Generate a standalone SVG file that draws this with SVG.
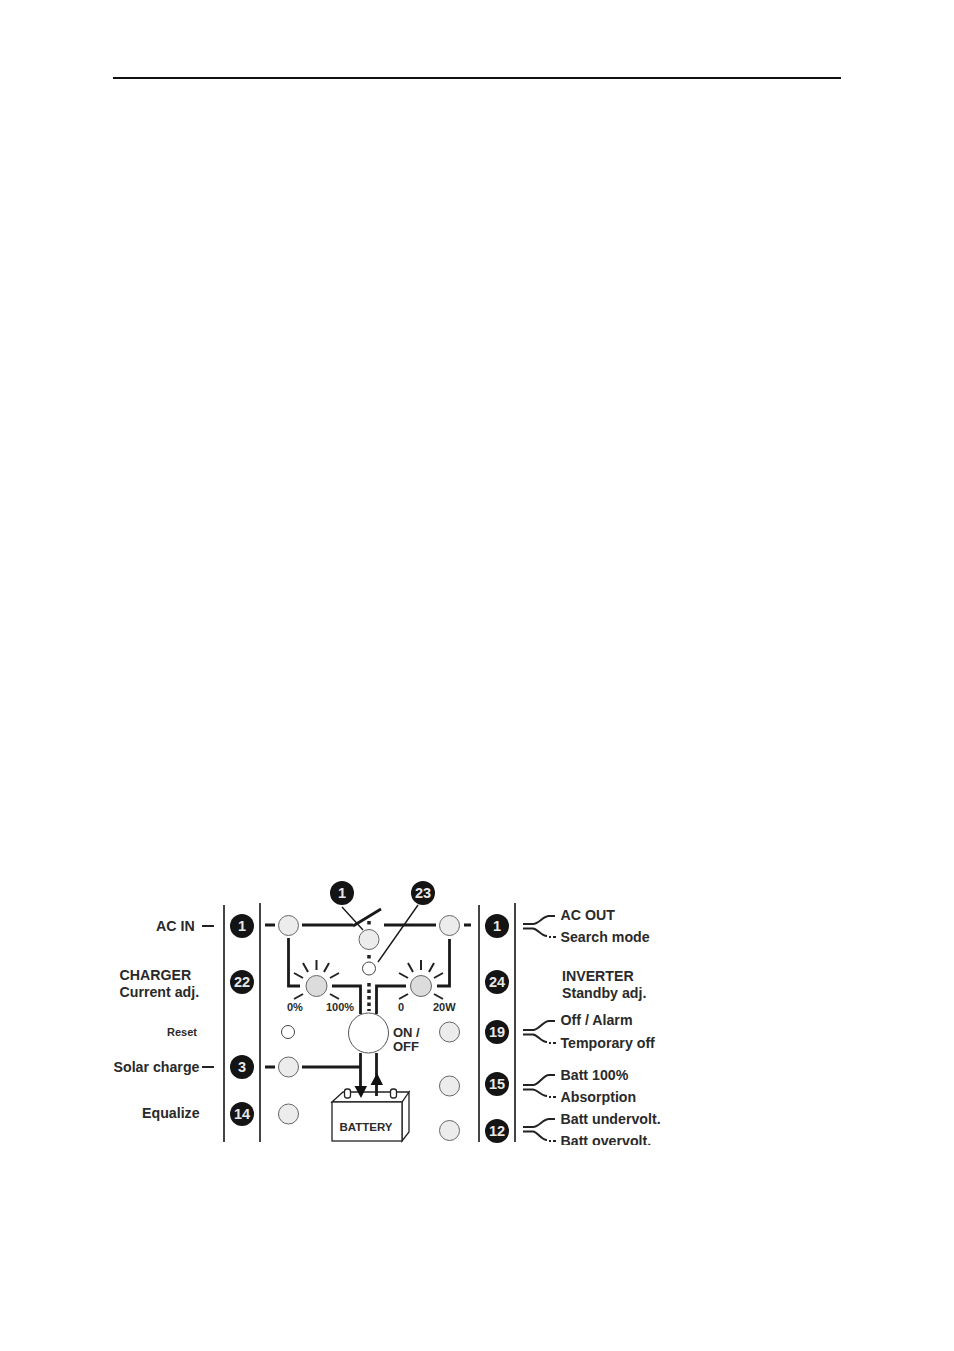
<svg xmlns="http://www.w3.org/2000/svg" width="954" height="1351" viewBox="0 0 954 1351">
<style>
text{font-family:"Liberation Sans",Arial,sans-serif;font-weight:700;fill:#2a2a2a}
.l{font-size:14.200px}.s{font-size:11px}
.o{font-size:13px}
.n{font-size:14.500px;fill:#e8e8e8;text-anchor:middle}
.b{fill:#141414}
.g{fill:#ececec;stroke:#666;stroke-width:1}
.d{fill:#dcdcdc;stroke:#666;stroke-width:1}
.w{fill:#fff;stroke:#444;stroke-width:1}
.c{fill:none;stroke:#1a1a1a;stroke-width:2.800}
.t{fill:none;stroke:#222;stroke-width:2}
.v{fill:none;stroke:#444;stroke-width:2}
.h{fill:none;stroke:#1a1a1a;stroke-width:1.400}
</style>
<defs><clipPath id="cut"><rect x="550" y="1125" width="120" height="20"/></clipPath></defs>
<rect width="954" height="1351" fill="#fff"/>
<path d="M113 78H841" stroke="#111" stroke-width="2" fill="none"/>
<g id="battery" fill="#fff" stroke="#222" stroke-width="1.300">
<path d="M332 1102L343 1092H409L402 1102ZM402 1102L409 1092V1132L402 1141Z"/>
<rect x="332" y="1102" width="70" height="39"/>
<rect x="344.500" y="1089" width="6" height="9" rx="2.500"/>
<rect x="390.500" y="1089" width="6" height="9" rx="2.500"/>
<text x="366" y="1131" text-anchor="middle" font-size="11.500" stroke="none">BATTERY</text>
</g>
<g id="connectors">
<path class="v" d="M224 905V1142M260 903V1142M479 905V1142M515 903V1142"/>
<path class="c" d="M265 925H275M302 925H353M353 926L381 909M384 925H436M464 925H471M288.500 938V986H300M265 1067H275M302 1067H360"/>
<path class="c" d="M449.500 939V986H437M332 986H360.500V1014M406 986H376.500V1014"/>
<path class="c" d="M360.500 1053V1090M376.500 1053V1096"/>
<path d="M354.500 1086H367L361 1098ZM370.500 1085H383L377 1073Z" fill="#111"/>
<path d="M369 983V1011" stroke="#222" stroke-width="3.500" stroke-dasharray="3.500 3" fill="none"/>
<path d="M369 921V924.500M369 955V958.500" stroke="#222" stroke-width="3.500" fill="none"/>
<path class="h" d="M342 907L363 930M418 905L378 962"/>
<path class="t" d="M303 963L308 972M316.500 960V970M329 963L324 972M294 973L303 978M339 973L330 978M294 999L303 994M339 999L330 994"/>
<path class="t" d="M408 963L413 972M421 960V970M434 963L429 972M399 973L408 978M443 973L434 978M399 999L408 994M443 999L434 994"/>
<path class="t" d="M202 926H214M202 1067H214"/>
<g class="t" id="brackets">
<path d="M523 924H533C539 924 543 916 549 916H555M523 928.500H533C538 929 541 936 547 936M549 937H551M553 937H556"/>
<path d="M523 1030H533C539 1030 543 1021 549 1021H555M523 1034.500H533C538 1035 541 1042 547 1042M549 1043H551M553 1043H556"/>
<path d="M523 1085H533C539 1085 543 1075 549 1075H555M523 1089.500H533C538 1090 541 1096 547 1096M549 1097H551M553 1097H556"/>
<path d="M523 1127H533C539 1127 543 1119 549 1119H555M523 1131.500H533C538 1132 541 1140 547 1140M549 1141H551M553 1141H556"/>
</g>
</g>
<g id="n1-left"><circle class="b" cx="242" cy="926" r="12"/><text class="n" x="242" y="931">1</text></g>
<g id="n22"><circle class="b" cx="242" cy="982" r="12"/><text class="n" x="242" y="987">22</text></g>
<g id="n3"><circle class="b" cx="242" cy="1067" r="12"/><text class="n" x="242" y="1072">3</text></g>
<g id="n14"><circle class="b" cx="242" cy="1114" r="12"/><text class="n" x="242" y="1119">14</text></g>
<g id="n1-top"><circle class="b" cx="342" cy="893" r="12"/><text class="n" x="342" y="898">1</text></g>
<g id="n23"><circle class="b" cx="423" cy="893" r="12"/><text class="n" x="423" y="898">23</text></g>
<g id="n1-right"><circle class="b" cx="497" cy="926" r="12"/><text class="n" x="497" y="931">1</text></g>
<g id="n24"><circle class="b" cx="497" cy="982" r="12"/><text class="n" x="497" y="987">24</text></g>
<g id="n19"><circle class="b" cx="497" cy="1032" r="12"/><text class="n" x="497" y="1037">19</text></g>
<g id="n15"><circle class="b" cx="497" cy="1084" r="12"/><text class="n" x="497" y="1089">15</text></g>
<g id="n12"><circle class="b" cx="497" cy="1131" r="12"/><text class="n" x="497" y="1136">12</text></g>
<g id="led-acin"><circle class="g" cx="288.500" cy="925.500" r="10"/></g>
<g id="led-acout"><circle class="g" cx="449.500" cy="925.500" r="10"/></g>
<g id="led-switch"><circle class="g" cx="369" cy="939.500" r="10"/></g>
<g id="led-small-23"><circle class="w" cx="369" cy="968.500" r="6.500"/></g>
<g id="knob-charger"><circle class="d" cx="316.500" cy="986" r="10.500"/></g>
<g id="knob-inverter"><circle class="d" cx="421" cy="986" r="10.500"/></g>
<g id="reset"><circle class="w" cx="288" cy="1032" r="6.500"/></g>
<g id="onoff"><circle cx="368.500" cy="1033" r="20" fill="#fff" stroke="#555"/></g>
<g id="led-solar"><circle class="g" cx="288.500" cy="1067" r="10"/></g>
<g id="led-equalize"><circle class="g" cx="288.500" cy="1114" r="10"/></g>
<g id="led-19"><circle class="g" cx="449.500" cy="1032" r="10"/></g>
<g id="led-15"><circle class="g" cx="449.500" cy="1086" r="10"/></g>
<g id="led-12"><circle class="g" cx="449.500" cy="1130.500" r="10"/></g>
<g id="labels">
<text class="l" x="156" y="931">AC IN</text>
<text class="l" x="119.500" y="980">CHARGER</text>
<text class="l" x="119.500" y="997">Current adj.</text>
<text x="167" y="1036" font-size="11">Reset</text>
<text class="l" x="113.500" y="1071.500">Solar charge</text>
<text class="l" x="142" y="1118">Equalize</text>
<text class="s" x="287" y="1011">0%</text>
<text class="s" x="326" y="1011">100%</text>
<text class="s" x="398" y="1011">0</text>
<text class="s" x="433" y="1011">20W</text>
<text class="o" x="393" y="1037">ON /</text>
<text class="o" x="393" y="1051">OFF</text>
<text class="l" x="560.500" y="920">AC OUT</text>
<text class="l" x="560.500" y="942">Search mode</text>
<text class="l" x="562" y="981">INVERTER</text>
<text class="l" x="562" y="998">Standby adj.</text>
<text class="l" x="560.500" y="1025">Off / Alarm</text>
<text class="l" x="560.500" y="1048">Temporary off</text>
<text class="l" x="560.500" y="1080">Batt 100%</text>
<text class="l" x="560.500" y="1102">Absorption</text>
<text class="l" x="560.500" y="1124">Batt undervolt.</text>
<text class="l" x="560.500" y="1146" clip-path="url(#cut)">Batt overvolt.</text>
</g>
</svg>
